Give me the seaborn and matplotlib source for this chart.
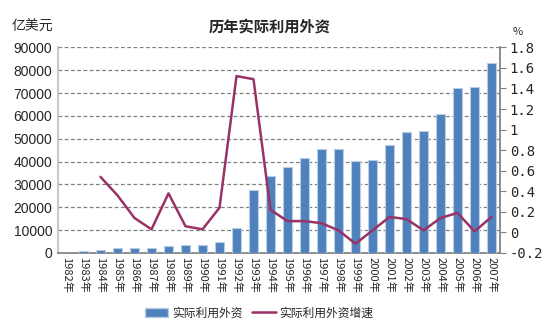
import numpy as np
import pandas as pd
import matplotlib
matplotlib.use("Agg")
import matplotlib.pyplot as plt
import seaborn as sns
from matplotlib.lines import Line2D
from matplotlib.patches import Patch

years = [f"{y}年" for y in range(1982, 2008)]
fdi = [0, 700, 1400, 2000, 2200, 2300, 3200, 3400, 3500, 4600, 11000, 27500,
       33800, 37600, 41700, 45500, 45500, 40300, 40600, 47100, 52900, 53500,
       60600, 72400, 72700, 83300]
growth = [np.nan, np.nan, 0.54, 0.36, 0.14, 0.03, 0.38, 0.06, 0.03, 0.24, 1.52, 1.49,
          0.22, 0.11, 0.11, 0.09, 0.02, -0.11, 0.02, 0.15, 0.13, 0.02, 0.14, 0.19,
          0.01, 0.15]
left_ticks = list(range(0, 90001, 10000))
right_ticks = [-0.2, 0, 0.2, 0.4, 0.6, 0.8, 1, 1.2, 1.4, 1.6, 1.8]

bar_color = "#4F81BD"
line_color = "#993366"

sns.set_theme(style="white")
plt.rcParams['font.family'] = ['Noto Sans CJK SC', 'DejaVu Sans']

df = pd.DataFrame({"year": years, "fdi": fdi, "growth": growth})
df["pos"] = np.arange(len(df))

fig = plt.figure(figsize=(5.53, 3.27), dpi=100)
ax = fig.add_axes([58/553, 1-253/327, (500-58)/553, (253-47.3)/327])

sns.barplot(data=df, x="year", y="fdi", color=bar_color, width=0.55,
            edgecolor="#B9CDE5", linewidth=0.8, saturation=1, ax=ax, zorder=3)
ax.set_ylim(0, 90000)
ax.set_yticks(left_ticks)
ax.set_yticklabels([str(v) for v in left_ticks], fontsize=10, family=['Liberation Sans', 'DejaVu Sans'])
ax.set_xlim(-0.5, len(years) - 0.5)
ax.set_xticks(np.arange(len(years)))
ax.set_xticklabels(years, rotation=270, fontsize=8, va="top", ha="center")
ax.tick_params(axis="x", length=0, pad=3)
ax.tick_params(axis="y", length=0, pad=4)
ax.set_xlabel("")
ax.set_ylabel("")
for v in left_ticks[1:]:
    ax.axhline(v, color="#808080", linestyle=(0, (3, 2)), linewidth=0.9, zorder=1)
ax.spines["top"].set_visible(False)
ax.spines["left"].set_color("#BFBFBF")
ax.spines["bottom"].set_color("#808080")
ax.spines["right"].set_visible(False)

ax2 = ax.twinx()
dl = df.dropna(subset=["growth"])
sns.lineplot(data=dl, x="pos", y="growth", color=line_color, linewidth=1.8, ax=ax2, zorder=4)
ax2.set_ylim(-0.2, 1.8)
ax2.set_yticks(right_ticks)
ax2.set_yticklabels(["-0.2", "0", "0.2", "0.4", "0.6", "0.8", "1", "1.2", "1.4", "1.6", "1.8"],
                    fontsize=10, family=['DejaVu Sans Mono'])
ax2.tick_params(axis="y", length=4, width=0.8, color="#808080", direction="out", pad=3, right=True)
ax2.set_xlabel("")
ax2.set_ylabel("")
ax2.set_xlim(-0.5, len(years) - 0.5)
ax2.spines["top"].set_visible(False)
ax2.spines["left"].set_visible(False)
ax2.spines["bottom"].set_visible(False)
ax2.spines["right"].set_color("#808080")
if ax2.get_legend():
    ax2.get_legend().remove()

fig.text(270/553, 1-27/327, "历年实际利用外资", ha="center", va="center", fontsize=11, fontweight="bold")
fig.text(32/553, 1-27/327, "亿美元", ha="center", va="center", fontsize=10)
fig.text(518/553, 1-32/327, "%", ha="center", va="center", fontsize=8)

handles = [Patch(facecolor=bar_color, edgecolor="#B9CDE5"),
           Line2D([0], [0], color=line_color, linewidth=1.8)]
fig.legend(handles, ["实际利用外资", "实际利用外资增速"], loc="center",
           bbox_to_anchor=(259/553, 1-313/327), ncol=2, frameon=False, fontsize=8.5,
           handlelength=2.0, handletextpad=0.3, columnspacing=0.8)

fig.savefig("out.png", dpi=100)
